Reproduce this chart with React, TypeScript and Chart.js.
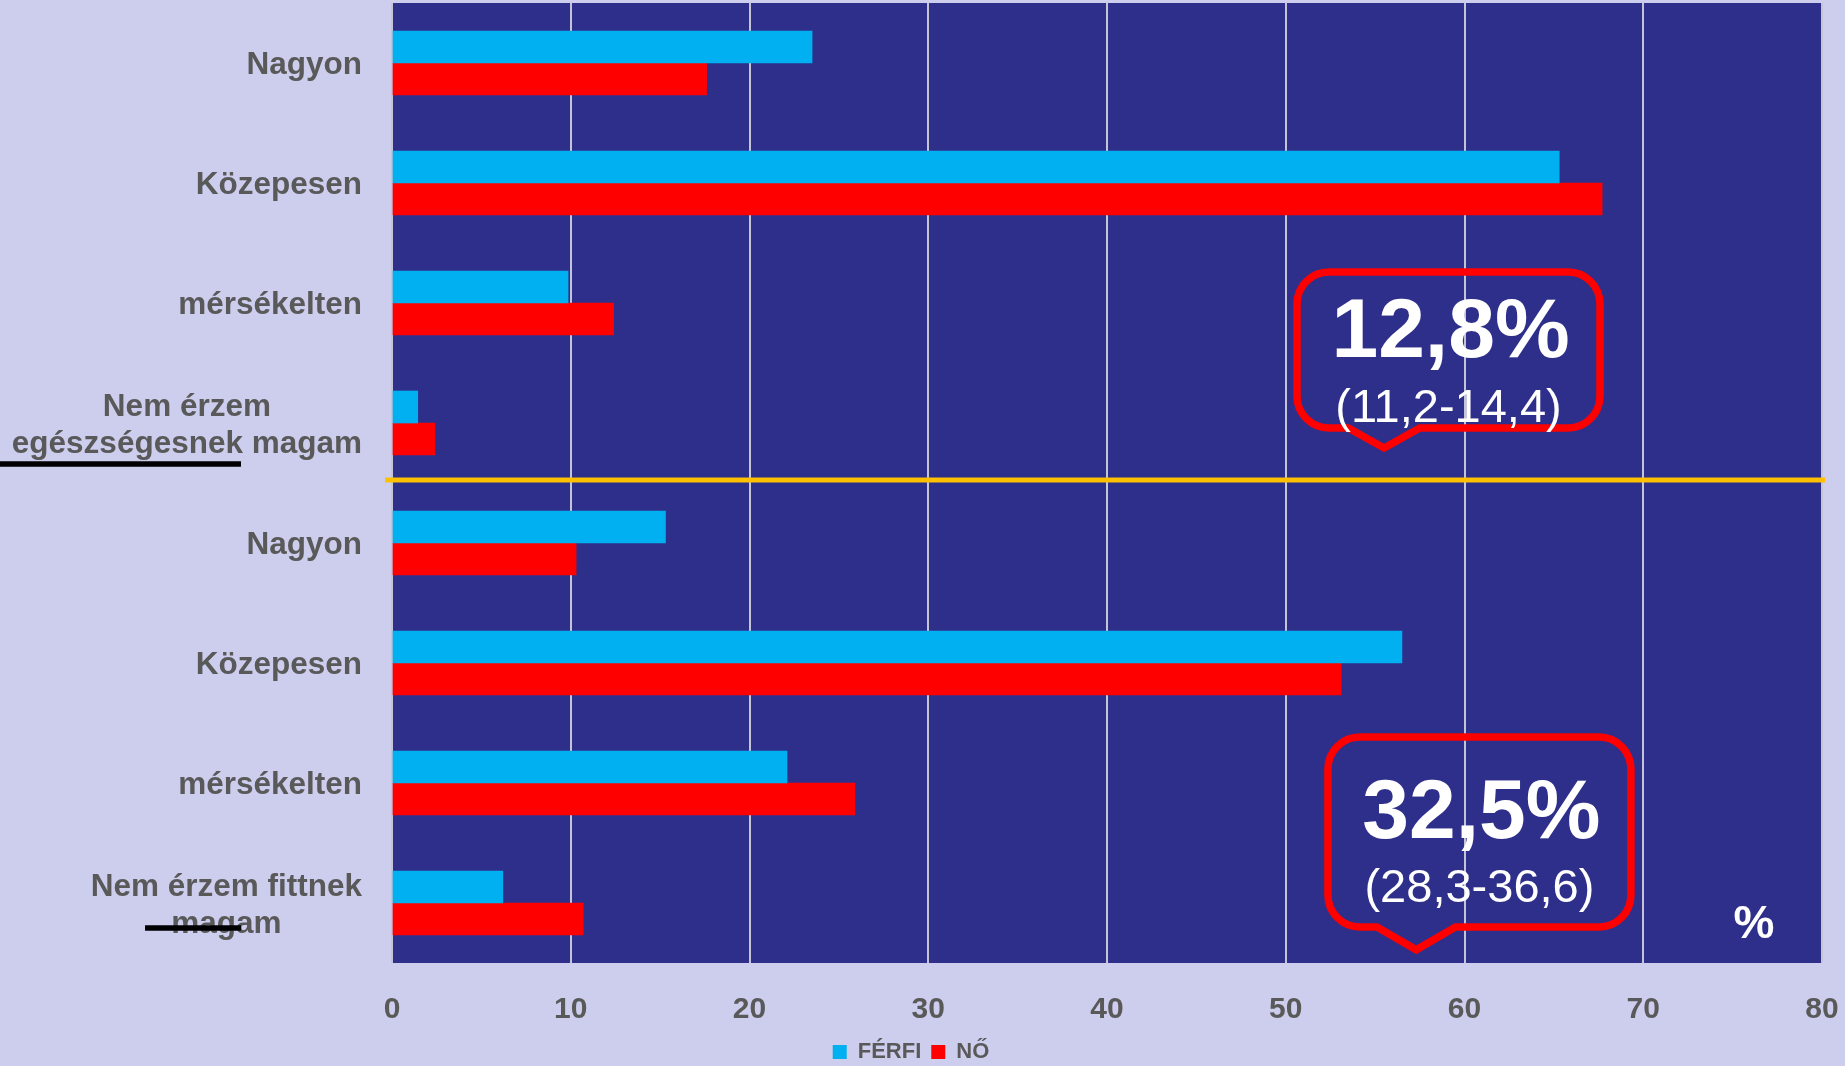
import { useEffect, useRef } from 'react';
import { Chart, registerables } from 'chart.js';

Chart.register(...registerables);

// ---------- data ----------
const categories: (string | string[])[] = [
  'Nagyon',
  'Közepesen',
  'mérsékelten',
  ['Nem érzem', 'egészségesnek magam'],
  'Nagyon',
  'Közepesen',
  'mérsékelten',
  ['Nem érzem fittnek', 'magam'],
];
const seriesNames = ['FÉRFI', 'NŐ'];
const ferfiValues = [23.5, 65.3, 9.85, 1.44, 15.3, 56.5, 22.1, 6.2];
const noValues = [17.6, 67.7, 12.4, 2.4, 10.3, 53.1, 25.9, 10.7];
const xTickMin = 0;
const xTickMax = 80;
const xTickStep = 10;
const calloutValues = ['12,8%', '32,5%'];
const calloutRanges = ['(11,2-14,4)', '(28,3-36,6)'];
const unitLabel = '%';

// ---------- styles ----------
const FONT = '"Liberation Sans", Arial, Helvetica, sans-serif';
const PAGE_BG = '#CDCEEE';
const PLOT_BG = '#2E2F8A';
const LABEL_GRAY = '#595959';
const BLUE = '#00B0F0';
const RED = '#FF0000';

// callout geometry in scale units (x: value, y: fractional category index)
const calloutGeom = [
  { l: 50.63, r: 67.58, t: 1.742, b: 3.042, pl: 53.5, px: 55.5, pr: 57.5, py: 3.208, t1: 2.45, t2: 2.992 },
  { l: 52.36, r: 69.31, t: 5.617, b: 7.2, pl: 55.1, px: 57.3, pr: 59.5, py: 7.39, t1: 6.458, t2: 6.992 },
];

function yAt(chart: any, f: number) {
  const y = chart.scales.y;
  const p0 = y.getPixelForValue(0);
  const p1 = y.getPixelForValue(1);
  return p0 + f * (p1 - p0);
}

const bgPlugin = {
  id: 'bgPlugin',
  beforeDraw(chart: any) {
    const { ctx, chartArea: a, width, height } = chart;
    ctx.save();
    ctx.fillStyle = PAGE_BG;
    ctx.fillRect(0, 0, width, height);
    ctx.fillStyle = PLOT_BG;
    ctx.fillRect(a.left, a.top, a.right - a.left, a.bottom - a.top);
    ctx.restore();
  },
};

function calloutPath(ctx: CanvasRenderingContext2D, l: number, t: number, r: number, b: number, rad: number, pl: number, px: number, pr: number, py: number) {
  ctx.beginPath();
  ctx.moveTo(l + rad, t);
  ctx.lineTo(r - rad, t);
  ctx.arcTo(r, t, r, t + rad, rad);
  ctx.lineTo(r, b - rad);
  ctx.arcTo(r, b, r - rad, b, rad);
  ctx.lineTo(pr, b);
  ctx.lineTo(px, py);
  ctx.lineTo(pl, b);
  ctx.lineTo(l + rad, b);
  ctx.arcTo(l, b, l, b - rad, rad);
  ctx.lineTo(l, t + rad);
  ctx.arcTo(l, t, l + rad, t, rad);
  ctx.closePath();
}

const overlayPlugin = {
  id: 'overlayPlugin',
  afterDraw(chart: any) {
    const { ctx, chartArea: a } = chart;
    const xs = chart.scales.x;
    const ys = chart.scales.y;
    ctx.save();

    // category labels
    const fs = 31.5;
    ctx.font = `bold ${fs}px ${FONT}`;
    ctx.fillStyle = LABEL_GRAY;
    ctx.textBaseline = 'alphabetic';
    const right = a.left - 30;
    const lineH = 37;
    categories.forEach((c, i) => {
      const lines = Array.isArray(c) ? c : [c];
      const cy = ys.getPixelForValue(i);
      const maxW = Math.max(...lines.map((l) => ctx.measureText(l).width));
      lines.forEach((l, k) => {
        const by = cy + fs * 0.36 + (k - (lines.length - 1) / 2) * lineH;
        if (lines.length === 1) {
          ctx.textAlign = 'right';
          ctx.fillText(l, right, by);
        } else {
          ctx.textAlign = 'center';
          ctx.fillText(l, right - maxW / 2, by);
        }
      });
    });

    // black underline marks
    ctx.fillStyle = '#000000';
    const u1 = ys.getPixelForValue(3) + 41;
    ctx.fillRect(0, u1 - 2.75, 241, 5.5);
    const u2 = ys.getPixelForValue(7) + 25;
    ctx.fillRect(145, u2 - 2.75, 96, 5.5);

    // yellow separator
    const sy = yAt(chart, 3.475);
    ctx.strokeStyle = '#FFC000';
    ctx.lineWidth = 5;
    ctx.beginPath();
    ctx.moveTo(a.left - 7, sy);
    ctx.lineTo(a.right + 3, sy);
    ctx.stroke();

    // callouts
    calloutGeom.forEach((g, i) => {
      const l = xs.getPixelForValue(g.l);
      const r = xs.getPixelForValue(g.r);
      const t = yAt(chart, g.t);
      const b = yAt(chart, g.b);
      calloutPath(
        ctx, l, t, r, b, 32,
        xs.getPixelForValue(g.pl), xs.getPixelForValue(g.px), xs.getPixelForValue(g.pr), yAt(chart, g.py)
      );
      ctx.strokeStyle = RED;
      ctx.lineWidth = 7.5;
      ctx.lineJoin = 'miter';
      ctx.stroke();
      const cx = (l + r) / 2;
      ctx.fillStyle = '#FFFFFF';
      ctx.textAlign = 'center';
      ctx.font = `bold 84px ${FONT}`;
      ctx.fillText(calloutValues[i], cx + 2, yAt(chart, g.t1));
      ctx.font = `47px ${FONT}`;
      ctx.fillText(calloutRanges[i], cx, yAt(chart, g.t2));
    });

    // unit label
    ctx.fillStyle = '#FFFFFF';
    ctx.textAlign = 'center';
    ctx.font = `bold 46px ${FONT}`;
    ctx.fillText(unitLabel, xs.getPixelForValue(76.2), yAt(chart, 7.29));

    ctx.restore();
  },
};

export default function App() {
  const canvasRef = useRef<HTMLCanvasElement | null>(null);

  useEffect(() => {
    document.body.style.margin = '0';
    document.body.style.background = PAGE_BG;
    document.body.style.overflow = 'hidden';
    const canvas = canvasRef.current;
    if (!canvas) return;
    const chart = new Chart(canvas, {
      type: 'bar',
      data: {
        labels: categories as any,
        datasets: [
          { label: seriesNames[0], data: ferfiValues, backgroundColor: BLUE, borderWidth: 0, barThickness: 32 },
          { label: seriesNames[1], data: noValues, backgroundColor: RED, borderWidth: 0, barThickness: 32 },
        ],
      },
      options: {
        indexAxis: 'y',
        responsive: false,
        animation: false,
        devicePixelRatio: 1,
        layout: { padding: { left: 0, top: 3, right: 23, bottom: -7 } },
        scales: {
          x: {
            min: xTickMin,
            max: xTickMax,
            ticks: {
              stepSize: xTickStep,
              padding: 0,
              color: LABEL_GRAY,
              font: { family: FONT, size: 30, weight: 'bold', lineHeight: 94 / 30 },
            },
            grid: { color: '#C4C4D6', lineWidth: 2, drawTicks: false },
            border: { display: false },
            afterFit(scale: any) {
              scale.height = 68;
              scale.paddingRight = 0;
              scale.paddingLeft = 0;
            },
          },
          y: {
            ticks: { display: false },
            grid: { display: false },
            border: { display: false },
            afterFit(scale: any) {
              scale.width = 392;
            },
          },
        },
        plugins: {
          legend: {
            position: 'bottom',
            labels: {
              color: LABEL_GRAY,
              font: { family: FONT, size: 22, weight: 'bold' },
              boxWidth: 14,
              boxHeight: 14,
              padding: 10,
            },
          },
          tooltip: { enabled: false },
        },
      },
      plugins: [bgPlugin, overlayPlugin],
    } as any);
    return () => chart.destroy();
  }, []);

  return (
    <canvas
      ref={canvasRef}
      width={1845}
      height={1066}
      style={{ display: 'block', width: '1845px', height: '1066px' }}
    />
  );
}
